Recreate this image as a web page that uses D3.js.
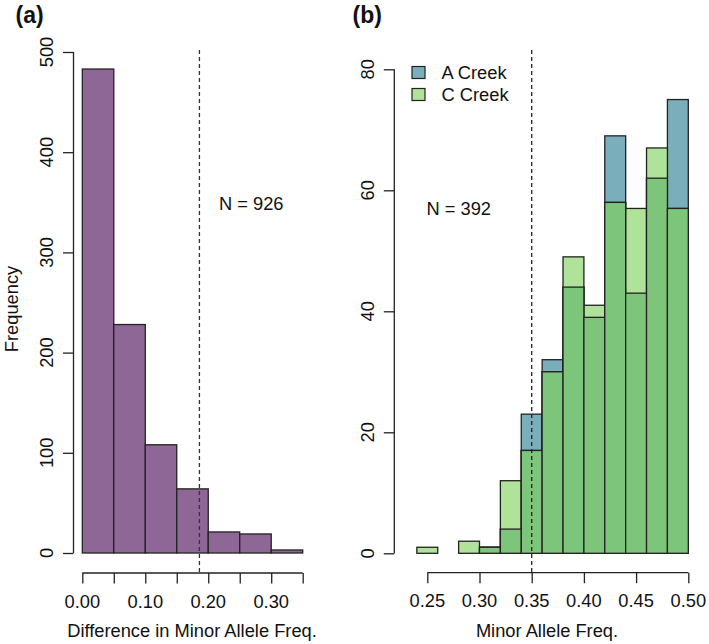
<!DOCTYPE html>
<html>
<head>
<meta charset="utf-8">
<script src="https://cdn.jsdelivr.net/npm/d3@7"></script>
<style>
  html, body { margin: 0; padding: 0; background: #fff; }
  svg { display: block; font-family: "Liberation Sans", Arial, sans-serif; }
</style>
</head>
<body>
<svg id="chart" width="709" height="644"></svg>
<script>
// ---------- Data ----------
// Panel (a): histogram of difference in minor allele frequency
const binsA = [0.00, 0.05, 0.10, 0.15, 0.20, 0.25, 0.30, 0.35];
const countsA = [483, 228, 108, 64, 21, 19, 3];
const thresholdA = 0.186;
const labelA = "N = 926";

// Panel (b): overlaid histograms of minor allele frequency
const binsB = [0.24, 0.26, 0.28, 0.30, 0.32, 0.34, 0.36, 0.38, 0.40, 0.42, 0.44, 0.46, 0.48, 0.50];
const countsACreek = [0, 0, 0, 1, 4, 23, 32, 44, 39, 69, 43, 62, 75];
const countsCCreek = [1, 0, 2, 1, 12, 17, 30, 49, 41, 58, 57, 67, 57];
const thresholdB = 0.35;
const labelB = "N = 392";
const seriesNames = ["A Creek", "C Creek"];

// Axis ticks
const xTicksA = [0.00, 0.05, 0.10, 0.15, 0.20, 0.25, 0.30, 0.35];
const xTickLabelsA = ["0.00", "", "0.10", "", "0.20", "", "0.30", ""];
const yTicksA = [0, 100, 200, 300, 400, 500];
const xTicksB = [0.25, 0.30, 0.35, 0.40, 0.45, 0.50];
const xTickLabelsB = ["0.25", "0.30", "0.35", "0.40", "0.45", "0.50"];
const yTicksB = [0, 20, 40, 60, 80];

// ---------- Styles ----------
const purple = "#8f6797";
const blue = "#7aaebb";
const lightGreen = "#b0e39a";
const darkGreen = "#7dc57b";
const strokeCol = "#222";
const fs = 18.3;

const svg = d3.select("#chart");

// ---------- Scales ----------
const xA = d3.scaleLinear().domain([0, 0.35]).range([82.3, 302.7]);
const yA = d3.scaleLinear().domain([0, 500]).range([553, 52]);
const xB = d3.scaleLinear().domain([0.25, 0.50]).range([427.3, 688.3]);
const yB = d3.scaleLinear().domain([0, 80]).range([553.3, 69.3]);

function styleAxis(g) {
  g.selectAll("path.domain").attr("stroke", strokeCol).attr("stroke-width", 1.3);
  g.selectAll(".tick line").attr("stroke", strokeCol).attr("stroke-width", 1.3);
  g.selectAll(".tick text").remove();
}

function drawAxes(x, y, xTicks, xLabels, yTicks, xAxisY, yAxisX) {
  const gx = svg.append("g").attr("transform", `translate(0,${xAxisY})`)
    .call(d3.axisBottom(x).tickValues(xTicks).tickSize(10.5).tickSizeOuter(0).tickFormat(""));
  styleAxis(gx);
  gx.select("path.domain").attr("d", `M${x(xTicks[0])},0H${x(xTicks[xTicks.length-1])}`);
  svg.append("g").selectAll("text").data(xTicks.map((t, i) => ({t, l: xLabels[i]})))
    .join("text")
    .attr("x", d => x(d.t)).attr("y", xAxisY + 34.5)
    .attr("text-anchor", "middle").attr("font-size", fs).attr("fill", "#111")
    .text(d => d.l);

  const gy = svg.append("g").attr("transform", `translate(${yAxisX},0)`)
    .call(d3.axisLeft(y).tickValues(yTicks).tickSize(10.5).tickSizeOuter(0).tickFormat(""));
  styleAxis(gy);
  gy.select("path.domain").attr("d", `M0,${y(yTicks[0])}V${y(yTicks[yTicks.length-1])}`);
  svg.append("g").selectAll("text").data(yTicks)
    .join("text")
    .attr("transform", d => `translate(${yAxisX - 20.5},${y(d)}) rotate(-90)`)
    .attr("text-anchor", "middle").attr("font-size", fs).attr("fill", "#111")
    .text(d => d3.format("d")(d));
}

// ---------- Panel (a) ----------
const dataA = countsA.map((c, i) => ({x0: binsA[i], x1: binsA[i + 1], c}));
svg.append("g").selectAll("rect").data(dataA).join("rect")
  .attr("x", d => xA(d.x0)).attr("width", d => xA(d.x1) - xA(d.x0))
  .attr("y", d => yA(d.c)).attr("height", d => yA(0) - yA(d.c))
  .attr("fill", purple).attr("stroke", strokeCol).attr("stroke-width", 1.3);

svg.append("line")
  .attr("x1", xA(thresholdA)).attr("x2", xA(thresholdA))
  .attr("y1", 50).attr("y2", 572)
  .attr("stroke", "#333").attr("stroke-width", 1.3).attr("stroke-dasharray", "4,3");

drawAxes(xA, yA, xTicksA, xTickLabelsA, yTicksA, 573, 73.5);

svg.append("text").attr("x", 219).attr("y", 209.5).attr("font-size", fs).attr("fill", "#111").text(labelA);
svg.append("text").attr("x", 192).attr("y", 637).attr("text-anchor", "middle")
  .attr("font-size", fs).attr("fill", "#111").text("Difference in Minor Allele Freq.");
svg.append("text").attr("transform", "translate(17.5,309) rotate(-90)").attr("text-anchor", "middle")
  .attr("font-size", fs).attr("fill", "#111").text("Frequency");
svg.append("text").attr("x", 15.5).attr("y", 23).attr("font-size", 23).attr("font-weight", "bold")
  .attr("fill", "#111").text("(a)");

// ---------- Panel (b) ----------
const dataB = countsACreek.map((a, i) => ({x0: binsB[i], x1: binsB[i + 1], a, c: countsCCreek[i]}));
const gB = svg.append("g");
function barsB(valueFn, fill) {
  gB.append("g").selectAll("rect").data(dataB).join("rect")
    .attr("x", d => xB(d.x0)).attr("width", d => xB(d.x1) - xB(d.x0))
    .attr("y", d => yB(valueFn(d))).attr("height", d => yB(0) - yB(valueFn(d)))
    .attr("fill", fill).attr("stroke", strokeCol).attr("stroke-width", 1.3);
}
barsB(d => d.a, blue);
barsB(d => d.c, lightGreen);
barsB(d => Math.min(d.a, d.c), darkGreen);

svg.append("line")
  .attr("x1", xB(thresholdB)).attr("x2", xB(thresholdB))
  .attr("y1", 50).attr("y2", 572)
  .attr("stroke", "#222").attr("stroke-width", 1.3).attr("stroke-dasharray", "4,3");

drawAxes(xB, yB, xTicksB, xTickLabelsB, yTicksB, 572.7, 394.3);

svg.append("text").attr("x", 426.5).attr("y", 215).attr("font-size", fs).attr("fill", "#111").text(labelB);
svg.append("text").attr("x", 547).attr("y", 637).attr("text-anchor", "middle")
  .attr("font-size", fs).attr("fill", "#111").text("Minor Allele Freq.");
svg.append("text").attr("x", 352.5).attr("y", 23).attr("font-size", 23).attr("font-weight", "bold")
  .attr("fill", "#111").text("(b)");

// Legend
const legend = svg.append("g").selectAll("g").data(seriesNames.map((n, i) => ({n, col: [blue, lightGreen][i], i})))
  .join("g").attr("transform", d => `translate(412,${66.5 + d.i * 22})`);
legend.append("rect").attr("width", 13).attr("height", 12)
  .attr("fill", d => d.col).attr("stroke", strokeCol).attr("stroke-width", 1.2);
legend.append("text").attr("x", 29.5).attr("y", 12.5).attr("font-size", fs).attr("fill", "#111").text(d => d.n);
</script>
</body>
</html>
